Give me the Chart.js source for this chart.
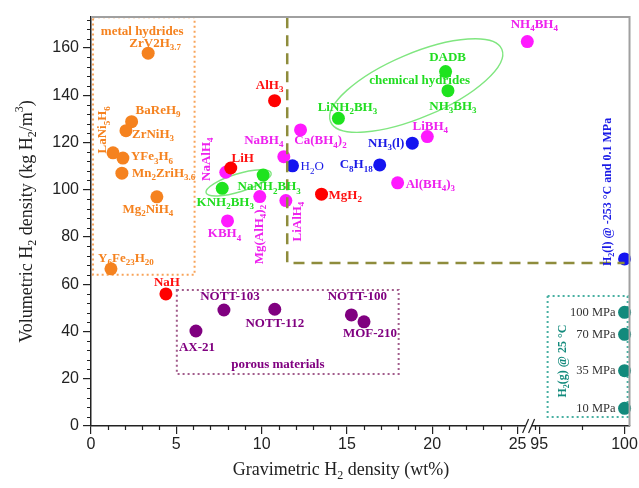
<!DOCTYPE html>
<html>
<head>
<meta charset="utf-8">
<script src="https://cdn.jsdelivr.net/npm/chart.js@4.4.1/dist/chart.umd.min.js"></script>
<style>
   html, body { margin: 0; padding: 0; background: #fff; }
   #wrap { width: 639px; height: 488px; }
</style>
</head>
<body>
<div id="wrap"><canvas id="chart" width="639" height="488"></canvas></div>
<script>
// ---- data ----
const metalNames = ['ZrV2H_{3.7}', 'BaReH_{9}', 'ZrNiH_{3}', 'LaNi_{5}H_{6}', 'YFe_{3}H_{6}', 'Mn_{2}ZriH_{3.6}', 'Mg_{2}NiH_{4}', 'Y_{6}Fe_{23}H_{20}'];
const metalX = [3.35, 2.38, 2.05, 1.29, 1.87, 1.81, 3.86, 1.17];
const metalY = [157.8, 128.8, 125.0, 115.6, 113.4, 107.0, 97.0, 66.5];

const binaryNames = ['AlH_{3}', 'LiH', 'NaH', 'MgH_{2}'];
const binaryX = [10.76, 8.19, 4.39, 13.51];
const binaryY = [137.7, 109.2, 55.9, 98.1];

const complexNames = ['NaAlH_{4}', 'NaBH_{4}', 'Ca(BH_{4})_{2}', 'Mg(AlH_{4})_{2}', 'LiAlH_{4}', 'KBH_{4}', 'LiBH_{4}', 'Al(BH_{4})_{3}', 'NH_{4}BH_{4}'];
const complexX = [7.90, 11.30, 12.28, 9.89, 11.42, 8.00, 19.71, 17.97, 25.57];
const complexY = [107.4, 114.0, 125.3, 97.1, 95.4, 86.8, 122.5, 102.9, 162.7];

const chemNames = ['DADB', 'NH_{3}BH_{3}', 'LiNH_{2}BH_{3}', 'NaNH_{2}BH_{3}', 'KNH_{2}BH_{3}'];
const chemX = [20.78, 20.92, 14.50, 10.09, 7.69];
const chemY = [150.0, 141.9, 130.2, 106.2, 100.6];

const liquidNames = ['H_{2}O', 'C_{8}H_{18}', 'NH_{3}(l)', 'H_{2}(l) @ -253 °C and 0.1 MPa'];
const liquidX = [11.81, 16.92, 18.83, 100];
const liquidY = [110.1, 110.5, 119.7, 70.7];

const porousNames = ['NOTT-103', 'NOTT-112', 'AX-21', 'NOTT-100', 'MOF-210'];
const porousX = [7.79, 10.77, 6.15, 15.26, 16.00];
const porousY = [49.1, 49.4, 40.2, 47.0, 44.1];

const gasNames = ['100 MPa', '70 MPa', '35 MPa', '10 MPa'];
const gasX = [100, 100, 100, 100];
const gasY = [48.1, 38.8, 23.4, 7.5];

// target lines (dashed)
const targetX = [11.5, 11.5, 100];
const targetY = [173, 69, 69];

const xTickValues = [0, 5, 10, 15, 20, 25, 95, 100];
const yTickValues = [0, 20, 40, 60, 80, 100, 120, 140, 160];

// broken x axis: 95..100 is moved next to 25
const BREAK_SHIFT = 68.73;
const gx = v => v > 50 ? v - BREAK_SHIFT : v;

const SERIF = '"Liberation Serif", "Times New Roman", serif';
const SANS = '"Liberation Sans", Arial, sans-serif';

const groups = [
   { names: metalNames, x: metalX, y: metalY, color: '#f5821f', text: '#f5821f' },
   { names: binaryNames, x: binaryX, y: binaryY, color: '#ff0000', text: '#ff1010' },
   { names: complexNames, x: complexX, y: complexY, color: '#ff1aff', text: '#ee22ee' },
   { names: chemNames, x: chemX, y: chemY, color: '#1ee31e', text: '#22dd22' },
   { names: liquidNames, x: liquidX, y: liquidY, color: '#1414f0', text: '#1a1ae6' },
   { names: porousNames, x: porousX, y: porousY, color: '#800080', text: '#800080' },
   { names: gasNames, x: gasX, y: gasY, color: '#128a7c', text: '#333333' }
];

// label placement relative to the point (px)
const UP = -Math.PI / 2;
const placement = {
   'ZrV2H_{3.7}': { dx: 7, dy: -10 },
   'BaReH_{9}': { dx: 4, dy: -11, align: 'left' },
   'ZrNiH_{3}': { dx: 6, dy: 4, align: 'left' },
   'LaNi_{5}H_{6}': { dx: -10, dy: -23, rot: UP },
   'YFe_{3}H_{6}': { dx: 8, dy: -1, align: 'left' },
   'Mn_{2}ZriH_{3.6}': { dx: 10, dy: 0, align: 'left' },
   'Mg_{2}NiH_{4}': { dx: -9, dy: 13 },
   'Y_{6}Fe_{23}H_{20}': { dx: 15, dy: -10 },
   'AlH_{3}': { dx: -5, dy: -15 },
   'LiH': { dx: 12, dy: -9 },
   'NaH': { dx: 1, dy: -11 },
   'MgH_{2}': { dx: 7, dy: 1, align: 'left' },
   'NaAlH_{4}': { dx: -19, dy: -13, rot: UP },
   'NaBH_{4}': { dx: -20, dy: -16 },
   'Ca(BH_{4})_{2}': { dx: 20, dy: 11 },
   'Mg(AlH_{4})_{2}': { dx: 0, dy: 38, rot: UP },
   'LiAlH_{4}': { dx: 12, dy: 21, rot: UP },
   'KBH_{4}': { dx: -3, dy: 13 },
   'LiBH_{4}': { dx: 3, dy: -10 },
   'Al(BH_{4})_{3}': { dx: 8, dy: 2, align: 'left' },
   'NH_{4}BH_{4}': { dx: 7, dy: -17 },
   'DADB': { dx: 2, dy: -14 },
   'NH_{3}BH_{3}': { dx: 5, dy: 16 },
   'LiNH_{2}BH_{3}': { dx: 9, dy: -11 },
   'NaNH_{2}BH_{3}': { dx: 6, dy: 12 },
   'KNH_{2}BH_{3}': { dx: 3, dy: 14 },
   'H_{2}O': { dx: 8, dy: 1, align: 'left', weight: 'normal' },
   'C_{8}H_{18}': { dx: -7, dy: 0, align: 'right' },
   'NH_{3}(l)': { dx: -8, dy: 0, align: 'right' },
   'H_{2}(l) @ -253 °C and 0.1 MPa': { dx: -17, dy: -67, rot: UP, size: 12 },
   'NOTT-103': { dx: 6, dy: -13 },
   'NOTT-112': { dx: 0, dy: 14 },
   'AX-21': { dx: 1, dy: 17 },
   'NOTT-100': { dx: 6, dy: -18 },
   'MOF-210': { dx: 6, dy: 12 },
   '100 MPa': { dx: -9, dy: 0, align: 'right', weight: 'normal', size: 12.5 },
   '70 MPa': { dx: -9, dy: 0, align: 'right', weight: 'normal', size: 12.5 },
   '35 MPa': { dx: -9, dy: 0, align: 'right', weight: 'normal', size: 12.5 },
   '10 MPa': { dx: -9, dy: 0, align: 'right', weight: 'normal', size: 12.5 }
};

// group boxes / ellipses / captions (axis units, transformed x)
const boxes = [
   { x0: 0.12, x1: 6.07, y0: 64, y1: 173, color: '#f8a45a' },
   { x0: 5.03, x1: 18.03, y0: 22.0, y1: 57.6, color: '#a25c8c' },
   { x0: 26.76, x1: 31.45, y0: 3.8, y1: 55.0, color: '#48b0a2' }
];
const ellipses = [
   { cx: 19.06, cy: 144.1, a: 93, b: 32, deg: -23 },
   { cx: 8.65, cy: 102.9, a: 34, b: 9, deg: -17 }
];
const captions = [
   { text: 'metal hydrides', x: 3.0, y: 167.0, color: '#f5821f' },
   { text: 'chemical hydrides', x: 19.26, y: 146.0, color: '#22dd22' },
   { text: 'porous materials', x: 10.95, y: 25.8, color: '#800080' },
   { text: 'H_{2}(g) @ 25 °C', x: 27.65, y: 27.5, color: '#128a7c', rot: UP, size: 12 }
];

function parseRich(s) {
   const out = [];
   let i = 0, buf = '';
   while (i < s.length) {
      const c = s[i];
      if ((c === '_' || c === '^') && s[i + 1] === '{') {
         if (buf) { out.push({ t: buf, m: 0 }); buf = ''; }
         const end = s.indexOf('}', i);
         out.push({ t: s.slice(i + 2, end), m: c === '_' ? 1 : -1 });
         i = end + 1;
      } else { buf += c; i++; }
   }
   if (buf) out.push({ t: buf, m: 0 });
   return out;
}

function drawRich(ctx, s, x, y, o) {
   const size = o.size || 13, fam = o.family || SERIF, wt = o.weight || 'bold';
   const parts = parseRich(s);
   const fontFor = m => wt + ' ' + (m ? Math.round(size * 0.66) : size) + 'px ' + fam;
   let w = 0;
   parts.forEach(p => { ctx.font = fontFor(p.m); p.w = ctx.measureText(p.t).width; w += p.w; });
   ctx.save();
   ctx.translate(x, y);
   if (o.rot) ctx.rotate(o.rot);
   let cx = o.align === 'left' ? 0 : o.align === 'right' ? -w : -w / 2;
   ctx.fillStyle = o.color;
   ctx.textBaseline = 'middle';
   ctx.textAlign = 'left';
   parts.forEach(p => {
      ctx.font = fontFor(p.m);
      ctx.fillText(p.t, cx, p.m === 1 ? size * 0.33 : p.m === -1 ? -size * 0.4 : 0);
      cx += p.w;
   });
   ctx.restore();
}

const decorations = {
   id: 'decorations',
   beforeDatasetsDraw(chart) {
      const { ctx, scales: { x, y } } = chart;
      ctx.save();
      ctx.lineWidth = 2;
      ctx.setLineDash([2, 3]);
      boxes.forEach(b => {
         ctx.strokeStyle = b.color;
         const l = x.getPixelForValue(b.x0), r = x.getPixelForValue(b.x1);
         const t = y.getPixelForValue(b.y1), btm = y.getPixelForValue(b.y0);
         ctx.strokeRect(l, t, r - l, btm - t);
      });
      ctx.setLineDash([]);
      ctx.strokeStyle = '#80e680';
      ctx.lineWidth = 1.4;
      ellipses.forEach(e => {
         ctx.beginPath();
         ctx.ellipse(x.getPixelForValue(e.cx), y.getPixelForValue(e.cy), e.a, e.b, e.deg * Math.PI / 180, 0, Math.PI * 2);
         ctx.stroke();
      });
      ctx.restore();
   },
   afterDatasetsDraw(chart) {
      const { ctx, scales: { x, y } } = chart;
      groups.forEach(g => {
         g.names.forEach((n, i) => {
            const p = placement[n] || { dx: 0, dy: -12 };
            drawRich(ctx, n, x.getPixelForValue(gx(g.x[i])) + p.dx, y.getPixelForValue(g.y[i]) + p.dy, {
               color: g.text, align: p.align, rot: p.rot, weight: p.weight, size: p.size
            });
         });
      });
      captions.forEach(c => {
         drawRich(ctx, c.text, x.getPixelForValue(c.x), y.getPixelForValue(c.y), { color: c.color, rot: c.rot, size: c.size });
      });
   },
   afterDraw(chart) {
      const { ctx, chartArea: a, scales: { x, y } } = chart;
      ctx.save();
      // grey frame top / right
      ctx.strokeStyle = '#a0a0a0';
      ctx.lineWidth = 2;
      ctx.beginPath();
      ctx.moveTo(a.left, a.top); ctx.lineTo(a.right, a.top); ctx.lineTo(a.right, a.bottom);
      ctx.stroke();
      // minor ticks
      ctx.strokeStyle = '#222';
      ctx.lineWidth = 1.2;
      ctx.beginPath();
      for (let v = 1; v <= 26; v++) {
         if (v % 5 === 0) continue;
         const px = Math.round(x.getPixelForValue(v)) + 0.5;
         ctx.moveTo(px, a.bottom); ctx.lineTo(px, a.bottom + 4);
      }
      const pm = Math.round(x.getPixelForValue(gx(97.5))) + 0.5;
      ctx.moveTo(pm, a.bottom); ctx.lineTo(pm, a.bottom + 4);
      for (let v = 4; v <= 172; v += 4) {
         if (v % 20 === 0) continue;
         const py = Math.round(y.getPixelForValue(v)) + 0.5;
         ctx.moveTo(a.left, py); ctx.lineTo(a.left - 4, py);
      }
      ctx.stroke();
      // axis break
      const b1 = x.getPixelForValue(25) + 8, b2 = b1 + 6;
      ctx.fillStyle = '#fff';
      ctx.fillRect(b1, a.bottom - 2, b2 - b1, 4);
      ctx.beginPath();
      [b1, b2].forEach(bx => { ctx.moveTo(bx - 3, a.bottom + 7); ctx.lineTo(bx + 3, a.bottom - 7); });
      ctx.stroke();
      ctx.restore();
      // axis titles
      drawRich(ctx, 'Volumetric H_{2} density (kg H_{2}/m^{3})', 27, (a.top + a.bottom) / 2, { color: '#222', weight: 'normal', size: 18, rot: UP });
      drawRich(ctx, 'Gravimetric H_{2} density (wt%)', a.left + 250, 470, { color: '#222', weight: 'normal', size: 18 });
   }
};

const datasets = groups.map(g => ({
   data: g.x.map((v, i) => ({ x: gx(v), y: g.y[i] })),
   backgroundColor: g.color,
   borderWidth: 0,
   pointRadius: 6.5,
   clip: false
}));
datasets.unshift({
   data: targetX.map((v, i) => ({ x: gx(v), y: targetY[i] })),
   showLine: true,
   borderColor: '#8e8c3c',
   borderWidth: 2.5,
   borderDash: [11, 7],
   pointRadius: 0,
   clip: false
});

new Chart(document.getElementById('chart'), {
   type: 'scatter',
   data: { datasets: datasets },
   options: {
      responsive: false,
      animation: false,
      layout: { padding: { top: 17, right: 9, left: 0, bottom: 0 } },
      plugins: { legend: { display: false }, tooltip: { enabled: false } },
      scales: {
         x: {
            type: 'linear', min: 0, max: 31.56,
            afterBuildTicks: s => { s.ticks = xTickValues.map(v => ({ value: gx(v) })); },
            afterFit: s => { s.height = 62; },
            ticks: {
               autoSkip: false, maxRotation: 0, padding: 1, color: '#222',
               font: { family: SANS, size: 16 },
               callback: (v, i) => String(xTickValues[i])
            },
            grid: { drawOnChartArea: false, tickLength: 8, color: '#222', lineWidth: 1.2 },
            border: { color: '#222', width: 1.5 }
         },
         y: {
            type: 'linear', min: 0, max: 173.1,
            afterBuildTicks: s => { s.ticks = yTickValues.map(v => ({ value: v })); },
            afterFit: s => { s.width = 91; },
            ticks: {
               padding: 4, color: '#222',
               font: { family: SANS, size: 16 },
               callback: v => String(v)
            },
            grid: { drawOnChartArea: false, tickLength: 8, color: '#222', lineWidth: 1.2 },
            border: { color: '#222', width: 1.5 }
         }
      }
   },
   plugins: [decorations]
});
</script>
</body>
</html>
